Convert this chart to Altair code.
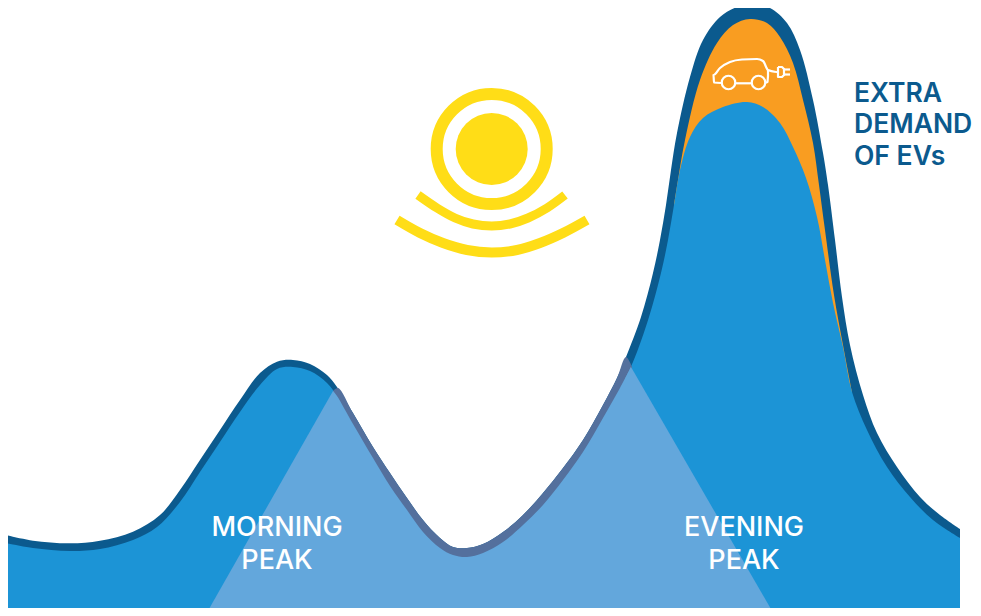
import altair as alt
import pandas as pd

W, H = 965, 600
BASE = 616

# Load curve, upper edge of the dark outline
outer_x = [5.7, 33, 70, 100, 133, 160, 180, 200, 220, 240, 260, 277, 293, 310, 327, 337, 353, 373, 390, 407, 423, 440, 453, 467, 483, 503, 523, 543, 563, 583, 603, 617, 626, 641, 653, 660, 666, 671, 677, 690, 703, 720, 737, 753, 770, 787, 800, 813, 823, 828, 835, 842, 850, 863, 877, 897, 920, 940, 960]
outer_y = [535, 540.7, 543.3, 540.7, 531.7, 515, 490, 460, 430, 400, 373, 361.7, 360, 364, 375, 387, 413, 447, 473, 498, 520, 538, 547, 548, 544, 532, 515, 493, 468, 440, 405, 378, 357, 317, 273, 240, 205, 170, 133, 77, 40, 17, 7, 4, 8, 23, 50, 100, 153, 185, 240, 297, 345, 395, 433, 467, 497, 515, 529]

# Load curve without EVs, lower edge of the dark outline
base_x = [5.7, 33, 70, 100, 133, 157, 180, 200, 220, 240, 260, 277, 293, 310, 327, 337, 353, 373, 390, 407, 423, 440, 453, 467, 483, 503, 523, 543, 563, 583, 603, 620, 633, 649, 661, 668, 674, 680, 690, 703, 723, 747, 763, 780, 793, 806, 817, 825, 833, 843, 852, 867, 887, 910, 933, 960]
base_y = [543, 548, 551, 549, 540, 527, 502, 472, 442, 412, 385, 369, 367, 371, 383, 396, 424, 458, 486, 510, 532, 548, 555, 557, 553, 542, 525, 505, 480, 452, 418, 388, 362, 317, 273, 240, 205, 170, 137, 118, 107, 102, 107, 123, 147, 178, 217, 260, 303, 347, 392, 430, 467, 497, 520, 538]

# Load curve with EVs, top of the orange band
ev_x = [674, 678, 685, 700, 717, 733, 750, 767, 780, 793, 803, 813, 819, 825, 834, 843, 852]
ev_y = [205, 180, 140, 80, 43, 25, 19, 23, 37, 63, 100, 143, 185, 230, 295, 345, 392]

# Highlighted peak windows
tri_left_x = [205, 333, 340]
tri_left_y = [616, 391, 402]
tri_right_x = [625, 631, 775]
tri_right_y = [379, 367, 616]
mid_x = [333, 337, 353, 373, 390, 407, 423, 440, 453, 467, 483, 503, 523, 543, 563, 583, 603, 620, 631]
mid_y = [391, 396, 424, 458, 486, 510, 532, 548, 555, 557, 553, 542, 525, 505, 480, 452, 418, 388, 367]
edge_x = [333, 338, 353, 373, 390, 407, 423, 440, 453, 467, 483, 503, 523, 543, 563, 583, 603, 617, 626, 632]
edge_y = [391, 388, 413, 447, 473, 498, 520, 538, 547, 548, 544, 532, 515, 493, 468, 440, 405, 378, 357, 367]

# Sun
sun_x = [491.7]
sun_y = [149]
wave1_x = [418, 437, 455, 473, 491.7, 510, 528, 547, 565]
wave1_y = [195, 208, 218, 224, 226, 224, 218, 208, 195]
wave2_x = [397, 420, 443, 467, 491.7, 517, 540, 563, 587]
wave2_y = [220, 233, 243, 250, 252.5, 250, 243, 233, 220]

# Car icon
car_x = [721, 714, 713.5, 720, 730, 742, 757, 763, 768, 776]
car_y = [83, 82.5, 75, 68, 62, 59.5, 59, 61, 70, 72]
car_rear_x = [765, 767.5, 768, 768]
car_rear_y = [83, 82, 76, 70]
car_floor_x = [735.5, 751]
car_floor_y = [83.3, 83.3]
wheel_x = [728.5, 758.5]
wheel_y = [82.5, 82.5]
plug_body_x = [778, 782, 784, 784, 782, 778, 778]
plug_body_y = [67, 67, 69, 75, 77, 77, 67]
plug_a_x = [784, 790]
plug_a_y = [69.5, 69.5]
plug_b_x = [784, 790]
plug_b_y = [74.5, 74.5]
plug_lead_x = [776, 778]
plug_lead_y = [72, 72]

# Labels
white_labels = ["MORNING", "PEAK", "EVENING", "PEAK"]
white_x = [277, 277, 744, 744]
white_y = [536, 568.5, 536, 568.5]
ev_labels = ["EXTRA", "DEMAND", "OF EVs"]
ev_label_x = [854, 854, 854]
ev_label_y = [102, 133, 165]

DARK = "#0b5a8e"
BLUE = "#1c94d6"
ORANGE = "#f99d21"
YELLOW = "#ffdd17"
LIGHT = "#63a7dc"
EDGE = "#54709d"

X = alt.X("x:Q", scale=alt.Scale(domain=[8, 973], nice=False, zero=False), axis=None)
Y = alt.Y("y:Q", scale=alt.Scale(domain=[608, 8], nice=False, zero=False), axis=None)


def area(xs, ys, color, interp="catmull-rom"):
    df = pd.DataFrame({"x": xs, "y": ys, "b": [BASE] * len(xs)})
    return alt.Chart(df).mark_area(color=color, interpolate=interp, orient="vertical").encode(
        x=X, y=Y, y2=alt.Y2("b:Q")
    )


def line(xs, ys, color, width, interp="monotone", cap="butt"):
    df = pd.DataFrame({"x": xs, "y": ys, "i": list(range(len(xs)))})
    return alt.Chart(df).mark_line(
        color=color, strokeWidth=width, interpolate=interp, strokeCap=cap, strokeJoin="round"
    ).encode(x=X, y=Y, order=alt.Order("i:Q"))


def ring(xs, ys, diameter, stroke, color, filled=False):
    df = pd.DataFrame({"x": xs, "y": ys})
    if filled:
        mark = alt.Chart(df).mark_point(shape="circle", filled=True, color=color, opacity=1, size=diameter ** 2)
    else:
        mark = alt.Chart(df).mark_point(
            shape="circle", filled=False, stroke=color, strokeWidth=stroke, opacity=1, size=diameter ** 2
        )
    return mark.encode(x=X, y=Y)


def labels(texts, xs, ys, color, size, weight, align):
    df = pd.DataFrame({"t": texts, "x": xs, "y": ys})
    return alt.Chart(df).mark_text(
        color=color, font="Inter", fontSize=size, fontWeight=weight, align=align, baseline="alphabetic"
    ).encode(x=X, y=Y, text="t:N")


layers = [
    area(outer_x, outer_y, DARK),
    area(ev_x, ev_y, ORANGE),
    area(base_x, base_y, BLUE),
    area(edge_x, edge_y, EDGE),
    area(mid_x, mid_y, LIGHT),
    area(tri_left_x, tri_left_y, LIGHT, "linear"),
    area(tri_right_x, tri_right_y, LIGHT, "linear"),
    ring(sun_x, sun_y, 72, 0, YELLOW, filled=True),
    ring(sun_x, sun_y, 110, 12, YELLOW),
    line(wave1_x, wave1_y, YELLOW, 9),
    line(wave2_x, wave2_y, YELLOW, 10),
    line(car_x, car_y, "white", 2.2, "monotone"),
    line(car_rear_x, car_rear_y, "white", 2.2, "linear"),
    line(car_floor_x, car_floor_y, "white", 2.2, "linear"),
    ring(wheel_x, wheel_y, 13.5, 2.2, "white"),
    line(plug_body_x, plug_body_y, "white", 2.2, "linear"),
    line(plug_a_x, plug_a_y, "white", 2.2, "linear"),
    line(plug_b_x, plug_b_y, "white", 2.2, "linear"),
    line(plug_lead_x, plug_lead_y, "white", 2.2, "linear"),
    labels(white_labels, white_x, white_y, "white", 27, 500, "center"),
    labels(ev_labels, ev_label_x, ev_label_y, DARK, 26.5, 600, "left"),
]

chart = (
    alt.layer(*layers)
    .properties(width=W, height=H, padding=0, autosize=alt.AutoSizeParams(type="none"))
    .configure(background="white", view=alt.ViewConfig(stroke=None))
)

chart.save("out.html", embed_options={"renderer": "svg", "actions": False})
